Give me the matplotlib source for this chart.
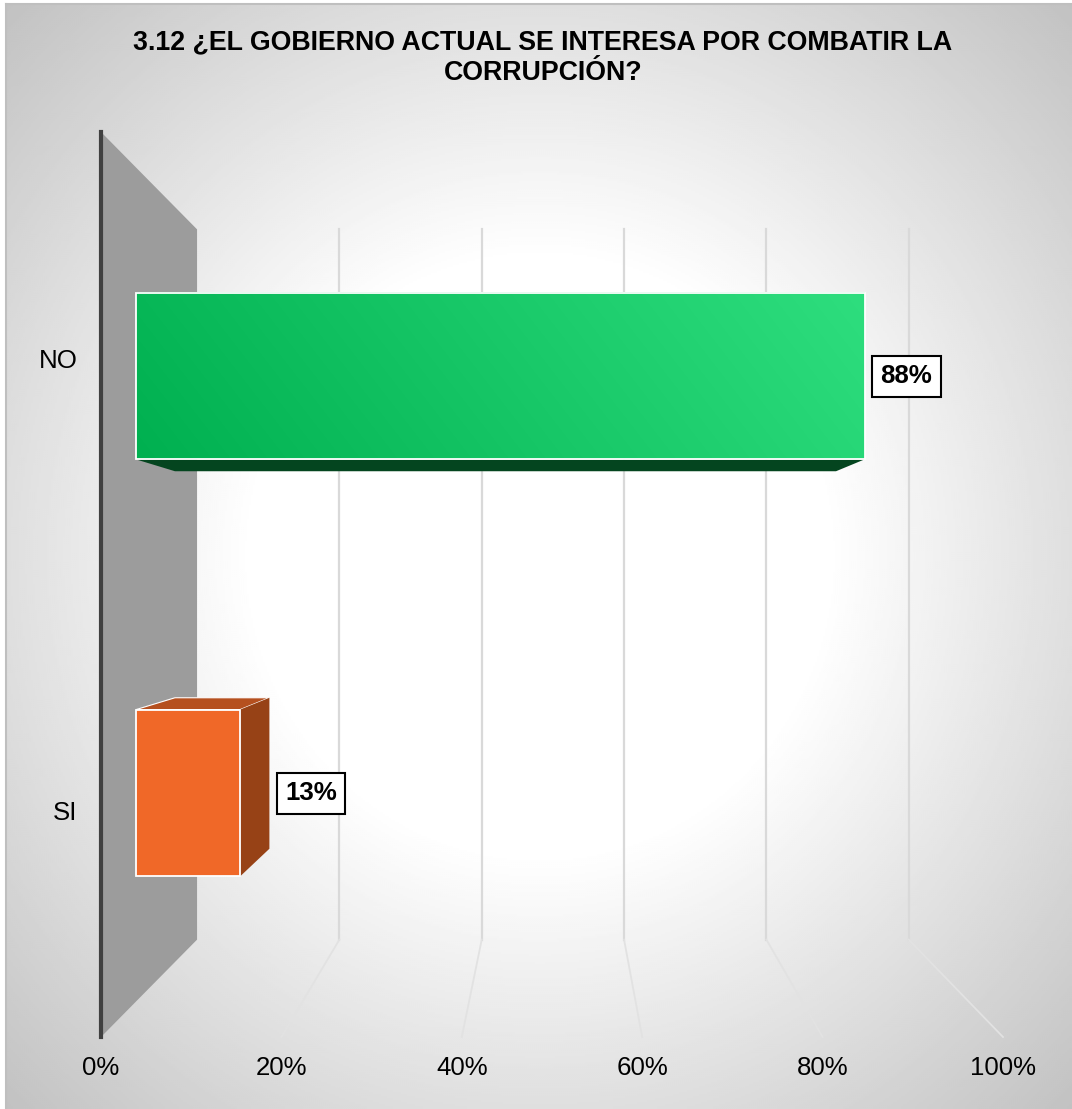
import numpy as np
import matplotlib
matplotlib.use("Agg")
import matplotlib.pyplot as plt
from matplotlib.patches import Polygon

# ---- data ----
categories = ["SI", "NO"]
values = [12.5, 87.5]
value_labels = ["13%", "88%"]
xticks = [0, 20, 40, 60, 80, 100]
xticklabels = ["0%", "20%", "40%", "60%", "80%", "100%"]
title = "3.12 ¿EL GOBIERNO ACTUAL SE INTERESA POR COMBATIR LA\nCORRUPCIÓN?"

# ---- layout / style ----
W, H = 1072, 1109
plt.rcParams["font.family"] = ["Liberation Sans", "DejaVu Sans"]
fig = plt.figure(figsize=(W / 100, H / 100), dpi=100, facecolor="white")


def rect(x0, y0, x1, y1):
    return [x0 / W, 1 - y1 / H, (x1 - x0) / W, (y1 - y0) / H]


# background: soft grey-to-white path gradient
bg = fig.add_axes(rect(6, 4, W, H))
yy, xx = np.mgrid[4:H:2, 6:W:2]
r = np.sqrt(((xx - 539) / 533) ** 2 + ((yy - 556) / 552) ** 2)
g = np.clip(255 - 70 * np.clip(r - 0.54, 0, None), 0, 255) / 255
bg.imshow(g, cmap="gray", vmin=0, vmax=1, aspect="auto", interpolation="bilinear")
bg.set_xticks([])
bg.set_yticks([])
for name, sp in bg.spines.items():
    sp.set_visible(name in ("left", "top"))
    sp.set_color("#bfbfbf")
    sp.set_linewidth(1.5)

# main axes: its rectangle is the front plane of the 3-D box
ax = fig.add_axes(rect(101, 132, 1003, 1037))
ax.patch.set_visible(False)
XLIM, YLIM = (0, 100), (-0.5, 1.5)

# perspective: depth 0 = front plane, depth 1 = back wall
SHIFT = 10.65       # sideways shift of the origin at the back wall, in x units
XSHRINK = 0.211     # x scale lost at the back wall
YSHRINK = 0.2152    # y scale lost at the back wall
BAR_FRONT, BAR_BACK = 0.365, 0.77
BAR_HALF = 0.2


def P(v, y, d):
    return (SHIFT * d + v * (1 - XSHRINK * d), 0.5 + (y - 0.5) * (1 - YSHRINK * d))


# wall
wall = Polygon([P(0, YLIM[0], 0), P(0, YLIM[1], 0), P(0, YLIM[1], 1), P(0, YLIM[0], 1)],
               closed=True, fc="#9c9c9c", ec="none", zorder=2, clip_on=False)
ax.add_patch(wall)

# grid lines: back wall plus floor
for t in xticks[1:]:
    p0, p1, p2 = P(t, YLIM[1], 1), P(t, YLIM[0], 1), P(t, YLIM[0], 0)
    ax.plot([p0[0], p1[0]], [p0[1], p1[1]], color="#d9d9d9", lw=1.6, zorder=1, clip_on=False)
    ax.plot([p1[0], p2[0]], [p1[1], p2[1]], color="#e2e2e2", lw=1.3, zorder=1, clip_on=False)

# NO bar
i = categories.index("NO")
v, y0, y1 = values[i], i - BAR_HALF, i + BAR_HALF
ax.add_patch(Polygon([P(0, y0, BAR_FRONT), P(v, y0, BAR_FRONT), P(v, y0, BAR_BACK), P(0, y0, BAR_BACK)],
                     closed=True, fc="#04451f", ec="none", zorder=3, clip_on=False))
uu, ww = np.meshgrid(np.linspace(0, 1, 200), np.linspace(1, 0, 100))
t = (0.85 * uu + 0.15 * ww)[..., None]
rgb = (np.array([0, 176, 80]) * (1 - t) + np.array([46, 222, 126]) * t) / 255
xa, ya = P(0, y0, BAR_FRONT)
xb, yb = P(v, y1, BAR_FRONT)
ax.imshow(rgb, extent=(xa, xb, ya, yb), aspect="auto", zorder=4, interpolation="bilinear", clip_on=False)
ax.add_patch(Polygon([P(0, y0, BAR_FRONT), P(v, y0, BAR_FRONT), P(v, y1, BAR_FRONT), P(0, y1, BAR_FRONT)],
                     closed=True, fc="none", ec="white", lw=1.3, zorder=5, clip_on=False))

# SI bar
i = categories.index("SI")
v, y0, y1 = values[i], i - BAR_HALF, i + BAR_HALF
ax.add_patch(Polygon([P(0, y1, BAR_FRONT), P(v, y1, BAR_FRONT), P(v, y1, BAR_BACK), P(0, y1, BAR_BACK)],
                     closed=True, fc="#b5501f", ec="white", lw=0.8, zorder=3, clip_on=False))
ax.add_patch(Polygon([P(v, y0, BAR_FRONT), P(v, y0, BAR_BACK), P(v, y1, BAR_BACK), P(v, y1, BAR_FRONT)],
                     closed=True, fc="#974216", ec="none", zorder=3, clip_on=False))
ax.add_patch(Polygon([P(0, y0, BAR_FRONT), P(v, y0, BAR_FRONT), P(v, y1, BAR_FRONT), P(0, y1, BAR_FRONT)],
                     closed=True, fc="#f06828", ec="white", lw=1.3, zorder=5, clip_on=False))

# value labels
for i, (v, lab) in enumerate(zip(values, value_labels)):
    x_edge = max(P(v, i, BAR_FRONT)[0], P(v, i, BAR_BACK)[0])
    ax.annotate(lab, xy=(x_edge, P(v, i, BAR_FRONT)[1]), xycoords="data",
                xytext=(30, 1.5), textcoords="offset points", ha="center", va="center_baseline",
                fontsize=18.6, fontweight="bold", color="black", zorder=6,
                bbox=dict(boxstyle="square,pad=0.33", fc="white", ec="black", lw=1.5))

ax.set_xlim(*XLIM)
ax.set_ylim(*YLIM)
ax.set_xticks(xticks)
ax.set_xticklabels(xticklabels, fontsize=18.6, color="black")
ax.set_yticks(range(len(categories)))
ax.set_yticklabels(categories, fontsize=18.6, color="black")
ax.tick_params(axis="x", length=0, pad=14)
ax.tick_params(axis="y", length=0, pad=17)
for name, sp in ax.spines.items():
    sp.set_visible(name == "left")
ax.spines["left"].set_color("#404040")
ax.spines["left"].set_linewidth(3)
ax.spines["left"].set_zorder(7)

fig.text(543 / W, 1 - 58 / H, title, ha="center", va="center", fontsize=19.3,
         fontweight="bold", color="black", linespacing=1.22)

fig.savefig("out.png", dpi=100)
